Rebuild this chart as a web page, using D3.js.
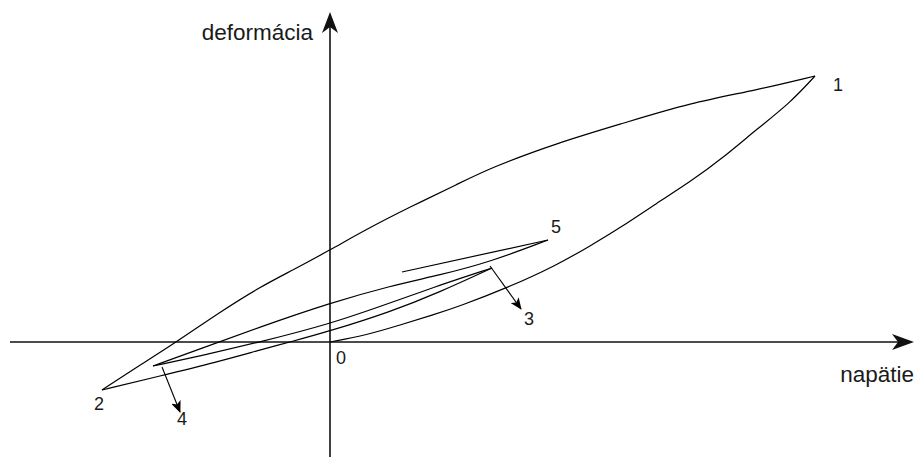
<!DOCTYPE html>
<html>
<head>
<meta charset="utf-8">
<script src="https://cdn.jsdelivr.net/npm/d3@7"></script>
<style>
  html, body { margin: 0; padding: 0; background: #fff; }
  svg { display: block; }
  text { font-family: "Liberation Sans", Arial, sans-serif; fill: #1a1a1a; }
</style>
</head>
<body>
<svg id="chart" width="917" height="457"></svg>
<script>
// ---- data (napätie = x, deformácia = y, arbitrary units) ----
const axisLabels = { x: "napätie", y: "deformácia" };
const originLabel = "0";

// 0 -> 1 : initial loading
const branch01 = [[0,0],[0.37,0.07],[0.70,0.17],[1.03,0.27],[1.30,0.36],[1.77,0.54],[2.27,0.77],[2.60,0.96],[2.90,1.14],[3.27,1.39],[3.60,1.60],[3.94,1.85],[4.27,2.13],[4.60,2.39],[4.85,2.66]];
// 1 -> 2 : unloading
const branch12 = [[4.85,2.66],[4.27,2.52],[3.60,2.39],[2.94,2.19],[2.27,1.99],[1.60,1.74],[1.28,1.58],[0.80,1.35],[0.37,1.13],[0,0.92],[-0.37,0.72],[-0.70,0.55],[-1.10,0.30],[-1.55,-0.01],[-1.90,-0.23],[-2.28,-0.48]];
// 2 -> 3
const branch23 = [[-2.28,-0.48],[-1.70,-0.34],[-1.13,-0.20],[-0.70,-0.08],[-0.40,0],[0,0.11],[0.60,0.30],[1.10,0.50],[1.62,0.74]];
// 3 -> 4
const branch34 = [[1.62,0.74],[1.10,0.57],[0.60,0.39],[0,0.18],[-0.70,0],[-1.30,-0.14],[-1.77,-0.24]];
// 4 -> 5
const branch45 = [[-1.77,-0.24],[-1.30,-0.07],[-0.70,0.15],[0,0.39],[0.60,0.56],[1.10,0.67],[1.60,0.80],[2.18,1.02]];
// 5 -> back
const branch5b = [[2.18,1.02],[0.72,0.70]];

const pointNames = ["1","2","3","4","5"];
const pointAt    = [[4.85,2.66],[-2.28,-0.48],[1.91,0.33],[-1.50,-0.70],[2.18,1.02]];
// pointer arrows for 3 and 4: [from, to]
const pointers = [ [[1.60,0.76],[1.91,0.33]], [[-1.68,-0.25],[-1.50,-0.70]] ];

// ---- layout ----
const W = 917, H = 457;
const x = d3.scaleLinear().domain([-3.3, 5.87]).range([0, W]);
const y = d3.scaleLinear().domain([-1.15, 3.42]).range([H, 0]);
const svg = d3.select("#chart");

const defs = svg.append("defs");
defs.append("marker").attr("id","ptr").attr("viewBox","0 0 12 10")
  .attr("refX",11).attr("refY",5).attr("markerWidth",12).attr("markerHeight",10)
  .attr("markerUnits","userSpaceOnUse").attr("orient","auto")
  .append("path").attr("d","M0,0 L12,5 L0,10 L3,5 Z").attr("fill","#000");

// axes
const x0 = x(0), y0 = y(0);
const xAxisG = svg.append("g");
xAxisG.append("line").attr("x1", x(-3.2)).attr("x2", W - 6).attr("y1", y0).attr("y2", y0)
  .attr("stroke","#111").attr("stroke-width",1.6);
xAxisG.append("path")
  .attr("d", `M${W-3},${y0} L${W-25},${y0-8} L${W-19},${y0} L${W-25},${y0+8} Z`)
  .attr("fill","#111");
const yAxisG = svg.append("g");
yAxisG.append("line").attr("x1", x0).attr("x2", x0).attr("y1", H).attr("y2", 18)
  .attr("stroke","#111").attr("stroke-width",1.6);
yAxisG.append("path")
  .attr("d", `M${x0},12 L${x0-8},33 L${x0},27 L${x0+8},33 Z`)
  .attr("fill","#111");

svg.append("text").attr("x", 914).attr("y", 382).attr("text-anchor","end")
  .attr("font-size", 22.5).text(axisLabels.x);
svg.append("text").attr("x", 313).attr("y", 40).attr("text-anchor","end")
  .attr("font-size", 22.5).text(axisLabels.y);
svg.append("text").attr("x", x0 + 6).attr("y", y0 + 22).attr("font-size", 18).text(originLabel);

// curves
const line = d3.line().x(d => x(d[0])).y(d => y(d[1])).curve(d3.curveBasis);
[branch01, branch12, branch23, branch34, branch45, branch5b].forEach(b => {
  svg.append("path").attr("d", line(b)).attr("fill","none")
    .attr("stroke","#000").attr("stroke-width",1.2);
});

// pointer arrows
pointers.forEach(p => {
  svg.append("line").attr("x1", x(p[0][0])).attr("y1", y(p[0][1]))
    .attr("x2", x(p[1][0])).attr("y2", y(p[1][1]))
    .attr("stroke","#000").attr("stroke-width",1.1).attr("marker-end","url(#ptr)");
});

// point labels
const labelOffset = [[18,15],[-8,20],[3,16],[-3,13],[3,-7]];
pointNames.forEach((n, i) => {
  svg.append("text").attr("x", x(pointAt[i][0]) + labelOffset[i][0])
    .attr("y", y(pointAt[i][1]) + labelOffset[i][1])
    .attr("font-size", 18).text(n);
});
</script>
</body>
</html>
